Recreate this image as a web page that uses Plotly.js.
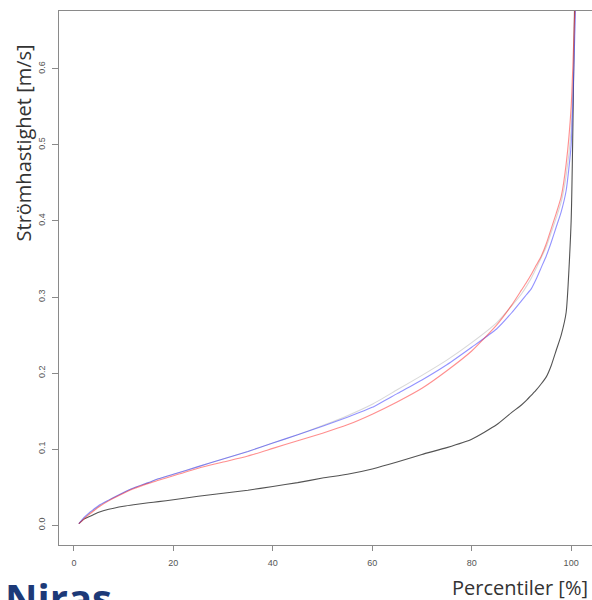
<!DOCTYPE html>
<html>
<head>
<meta charset="utf-8">
<script src="https://cdn.plot.ly/plotly-3.0.1.min.js"></script>
<style>
html,body{margin:0;padding:0;overflow:hidden;background:#fff;}
#chart{width:600px;height:600px;}
</style>
</head>
<body>
<div id="chart"></div>
<script>
const percentiles = [1,2,3,4,5,7,10,12,15,17,20,25,30,35,40,45,50,55,60,65,70,75,80,85,88,90,91,92,93,94,95,96,97,98,99,100,101];
const blackSeries = [0.002,0.008,0.011,0.014,0.017,0.021,0.025,0.027,0.0295,0.031,0.0335,0.038,0.042,0.046,0.051,0.056,0.062,0.067,0.074,0.083,0.093,0.102,0.113,0.132,0.148,0.158,0.164,0.171,0.178,0.186,0.195,0.21,0.23,0.25,0.28,0.40,0.85];
const graySeries = [0.002,0.009,0.015,0.020,0.025,0.033,0.043,0.049,0.056,0.061,0.067,0.077,0.087,0.097,0.108,0.119,0.131,0.144,0.159,0.178,0.197,0.217,0.240,0.266,0.288,0.304,0.314,0.325,0.338,0.352,0.366,0.385,0.404,0.425,0.46,0.52,0.72];
const blueSeries = [0.002,0.010,0.016,0.021,0.026,0.033,0.043,0.049,0.056,0.061,0.067,0.077,0.087,0.097,0.108,0.119,0.130,0.142,0.155,0.173,0.191,0.211,0.234,0.258,0.279,0.295,0.303,0.311,0.324,0.339,0.354,0.372,0.392,0.412,0.44,0.50,0.71];
const redSeries = [0.002,0.008,0.014,0.019,0.024,0.032,0.042,0.048,0.055,0.059,0.065,0.075,0.083,0.091,0.101,0.111,0.121,0.132,0.146,0.162,0.180,0.203,0.229,0.263,0.289,0.309,0.319,0.330,0.342,0.354,0.370,0.39,0.41,0.432,0.475,0.55,0.73];
const xTicks = [0,20,40,60,80,100];
const yTicks = [0,0.1,0.2,0.3,0.4,0.5,0.6];
const yTickLabels = ["0.0","0.1","0.2","0.3","0.4","0.5","0.6"];

function lineTrace(yv, color) {
  return {x: percentiles, y: yv, mode:'lines',
          line:{color:color, width:1.1, shape:'spline', smoothing:0.5}, hoverinfo:'skip'};
}
const traces = [
  lineTrace(blackSeries, 'rgba(40,40,40,0.8)'),
  lineTrace(graySeries, 'rgba(190,190,190,0.6)'),
  lineTrace(blueSeries, 'rgba(40,40,255,0.5)'),
  lineTrace(redSeries, 'rgba(255,30,30,0.5)')
];

const axisCommon = {
  showgrid:false, zeroline:false, showline:true, mirror:true,
  linecolor:'#8a8a8a', linewidth:1,
  ticks:'outside', tickcolor:'#8a8a8a', tickwidth:1
};

const layout = {
  width:600, height:600,
  margin:{l:59, r:4, t:11, b:55, pad:0},
  paper_bgcolor:'#fff', plot_bgcolor:'#fff',
  showlegend:false,
  font:{family:'Liberation Sans, Arial, sans-serif', color:'#555'},
  xaxis: Object.assign({}, axisCommon, {
    range:[-3,105], tickmode:'array', tickvals:xTicks, ticktext:xTicks.map(String),
    ticklen:5, tickfont:{size:9, color:'#555'}, ticklabelstandoff:4
  }),
  yaxis: Object.assign({}, axisCommon, {
    range:[-0.026,0.676], tickmode:'array', tickvals:yTicks, ticktext:yTickLabels,
    ticklen:6, tickangle:-90, tickfont:{size:9, color:'#555'}, ticklabelstandoff:3
  }),
  annotations:[
    {text:'Strömhastighet [m/s]', xref:'paper', yref:'paper', x:-0.066, y:0.753,
     xanchor:'center', yanchor:'middle', textangle:-90, showarrow:false,
     font:{family:'Open Sans, sans-serif', size:20, color:'#333'}},
    {text:'Percentiler [%]', xref:'paper', yref:'paper', x:0.988, y:-0.079,
     xanchor:'right', yanchor:'middle', showarrow:false,
     font:{family:'Open Sans, sans-serif', size:20, color:'#333'}},
    {text:'<b>Niras</b>', xref:'paper', yref:'paper', x:-0.105, y:-0.043,
     xanchor:'left', yanchor:'top', showarrow:false,
     font:{family:'Open Sans, sans-serif', size:40, color:'#1d3a78'}}
  ]
};

Plotly.newPlot('chart', traces, layout, {displayModeBar:false, staticPlot:true});
</script>
</body>
</html>
